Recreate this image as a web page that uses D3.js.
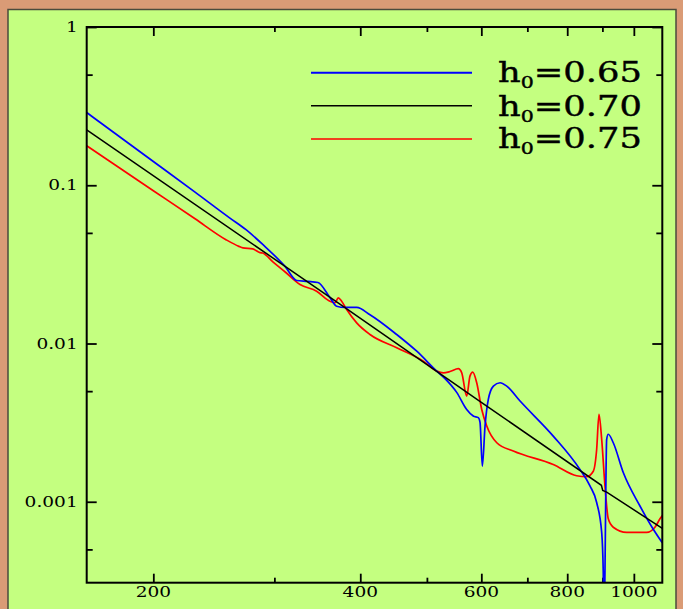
<!DOCTYPE html>
<html><head><meta charset="utf-8">
<script src="https://cdn.jsdelivr.net/npm/d3@7"></script>
<style>html,body{margin:0;padding:0;background:#DA9B76;overflow:hidden}</style>
</head><body>
<script>
// ---- data ----
const xMajorTicks = [200, 400, 600, 800, 1000];
const xTickLabels = ["200", "400", "600", "800", "1000"];
const xMinorTicks = [300, 500, 700, 900];
const yMajorTicks = [1, 0.1, 0.01, 0.001];
const yTickLabels = ["1", "0.1", "0.01", "0.001"];
const yMinorTicks = [0.5, 0.05, 0.005, 0.0005];

const seriesNames = ["0.65", "0.70", "0.75"];
const seriesColors = ["#0000ff", "#000000", "#ff0000"];

const blueX = [160, 200, 230, 258.5, 272.8, 288.8, 310.9, 323.3, 335.7, 347.1, 361.4, 369.6, 380, 395.2, 413.2, 451.9, 483.3, 516.8, 531.3, 552.5, 571.3, 584, 594, 597.4, 602, 607.5, 614.2, 624.7, 638.9, 653.3, 683.1, 763.4, 834.8, 863.3, 882.9, 897.9, 902.6, 904.7, 907.8, 913.0, 917.9, 933.4, 965.2, 1020.7, 1067.3, 1100];
const blueY = [0.288, 0.1414, 0.0905, 0.0620, 0.0524, 0.0421, 0.0307, 0.0250, 0.0247, 0.0243, 0.0195, 0.0172, 0.0169, 0.0169, 0.0152, 0.0114, 0.00894, 0.00669, 0.0060, 0.00491, 0.00383, 0.00348, 0.00340, 0.00317, 0.00168, 0.00301, 0.00443, 0.00538, 0.00565, 0.00538, 0.00433, 0.00260, 0.00160, 0.00126, 0.00099, 0.00064, 0.00036, 0.0001, 0.00036, 0.00248, 0.00267, 0.00236, 0.00153, 0.00094, 0.00067, 0.00055];

const blackX = [160, 380, 600, 897, 901, 913, 1100];
const blackY = [0.224, 0.01687, 0.00425, 0.00127, 0.00118, 0.00115, 0.00068];

const redX = [160, 200, 230, 255.1, 266.4, 270, 279, 285.9, 288.5, 298.5, 312, 326.9, 345.6, 361.4, 367.5, 371.6, 375.8, 382.2, 395.2, 413.2, 451.9, 494.1, 516.8, 528.3, 540.2, 555.5, 561.9, 571.3, 577.6, 583, 590.8, 600.8, 611, 631.9, 667.9, 763.4, 825.6, 853.8, 873, 882.9, 889.8, 897.9, 907.8, 917.9, 933.4, 976.3, 1043.8, 1073.2, 1091.4, 1100];
const redY = [0.1775, 0.0924, 0.0614, 0.0453, 0.0411, 0.0402, 0.0396, 0.0375, 0.0373, 0.0328, 0.0280, 0.0236, 0.0214, 0.0185, 0.0181, 0.0194, 0.0185, 0.0164, 0.0135, 0.0114, 0.0094, 0.00773, 0.00669, 0.00653, 0.00665, 0.00693, 0.00653, 0.00465, 0.00622, 0.00659, 0.00565, 0.00383, 0.00301, 0.00236, 0.00209, 0.00172, 0.00146, 0.00144, 0.00156, 0.00214, 0.00357, 0.00248, 0.00126, 0.00078, 0.00069, 0.00064, 0.00064, 0.00069, 0.00078, 0.00082];

// ---- layout ----
const W = 683, H = 609;
const L = 86.7, R = 662.3, T = 27, B = 582.7;
const FONT = "DejaVu Serif";
const SX = 1.28;

const svg = d3.select("body").append("svg").attr("width", W).attr("height", H);
svg.append("rect").attr("width", W).attr("height", H).attr("fill", "#DA9B76");
svg.append("rect").attr("x", 8).attr("y", 9.5).attr("width", 668).attr("height", 640)
  .attr("fill", "#C4FF80").attr("stroke", "#4b4b3c").attr("stroke-width", 1.5);

const x = d3.scaleLog().domain([160, 1100]).range([L, R]);
const y = d3.scaleLog().domain([1, 0.000308]).range([T, B]);

svg.append("clipPath").attr("id", "plot").append("rect")
  .attr("x", L).attr("y", T).attr("width", R - L).attr("height", B - T);

// axes (ticks inward on all four sides)
function axisSet(axisFn, scale, ticks, size, tr) {
  const a = axisFn(scale).tickValues(ticks).tickSizeInner(size).tickSizeOuter(0).tickFormat("");
  const g = svg.append("g").attr("transform", tr).call(a);
  g.select(".domain").remove();
  g.selectAll(".tick line").attr("stroke", "#000").attr("stroke-width", 1.8);
}
axisSet(d3.axisBottom, x, xMajorTicks, -9, `translate(0,${B})`);
axisSet(d3.axisBottom, x, xMinorTicks, -5, `translate(0,${B})`);
axisSet(d3.axisTop, x, xMajorTicks, -9, `translate(0,${T})`);
axisSet(d3.axisTop, x, xMinorTicks, -5, `translate(0,${T})`);
axisSet(d3.axisLeft, y, yMajorTicks, -10, `translate(${L},0)`);
axisSet(d3.axisLeft, y, yMinorTicks, -6, `translate(${L},0)`);
axisSet(d3.axisRight, y, yMajorTicks, -10, `translate(${R},0)`);
axisSet(d3.axisRight, y, yMinorTicks, -6, `translate(${R},0)`);

// tick labels
xMajorTicks.forEach((v, i) => {
  svg.append("g").attr("transform", `translate(${x(v)},597) scale(${SX},1)`)
    .append("text").attr("text-anchor", "middle").attr("font-family", FONT)
    .attr("font-size", 14.5).attr("fill", "#000").text(xTickLabels[i]);
});
yMajorTicks.forEach((v, i) => {
  svg.append("g").attr("transform", `translate(77.7,${y(v) + 5}) scale(${SX},1)`)
    .append("text").attr("text-anchor", "end").attr("font-family", FONT)
    .attr("font-size", 14.5).attr("fill", "#000").text(yTickLabels[i]);
});

// curves
const line = d3.line().x(d => x(d[0])).y(d => y(d[1])).curve(d3.curveMonotoneX);
const lineLin = d3.line().x(d => x(d[0])).y(d => y(d[1]));
const plot = svg.append("g").attr("clip-path", "url(#plot)");
plot.append("path").datum(d3.zip(redX, redY)).attr("d", line)
  .attr("fill", "none").attr("stroke", seriesColors[2]).attr("stroke-width", 1.7);
plot.append("path").datum(d3.zip(blueX, blueY)).attr("d", line)
  .attr("fill", "none").attr("stroke", seriesColors[0]).attr("stroke-width", 1.7);
plot.append("path").datum(d3.zip(blackX, blackY)).attr("d", lineLin)
  .attr("fill", "none").attr("stroke", seriesColors[1]).attr("stroke-width", 1.5);

// frame
svg.append("rect").attr("x", L).attr("y", T).attr("width", R - L).attr("height", B - T)
  .attr("fill", "none").attr("stroke", "#000").attr("stroke-width", 2);

// legend
const legLineY = [72.7, 105.7, 139];
const legTextY = [82.3, 115.7, 148.3];
seriesNames.forEach((name, i) => {
  svg.append("line").attr("x1", 311).attr("x2", 472).attr("y1", legLineY[i]).attr("y2", legLineY[i])
    .attr("stroke", seriesColors[i]).attr("stroke-width", i === 0 ? 2 : 1.5);
  const g = svg.append("g");
  const t = g.append("text").attr("font-family", FONT).attr("font-size", 27.5).attr("fill", "#000")
    .attr("stroke", "#000").attr("stroke-width", 0.4);
  t.append("tspan").text("h");
  t.append("tspan").attr("font-size", 16).attr("dy", 6).text("0");
  t.append("tspan").attr("dy", -6).text("=" + name);
  const w = t.node().getComputedTextLength();
  const s = 144 / w;
  g.attr("transform", `translate(498,${legTextY[i]}) scale(${s},1)`);
});
</script>
</body></html>
